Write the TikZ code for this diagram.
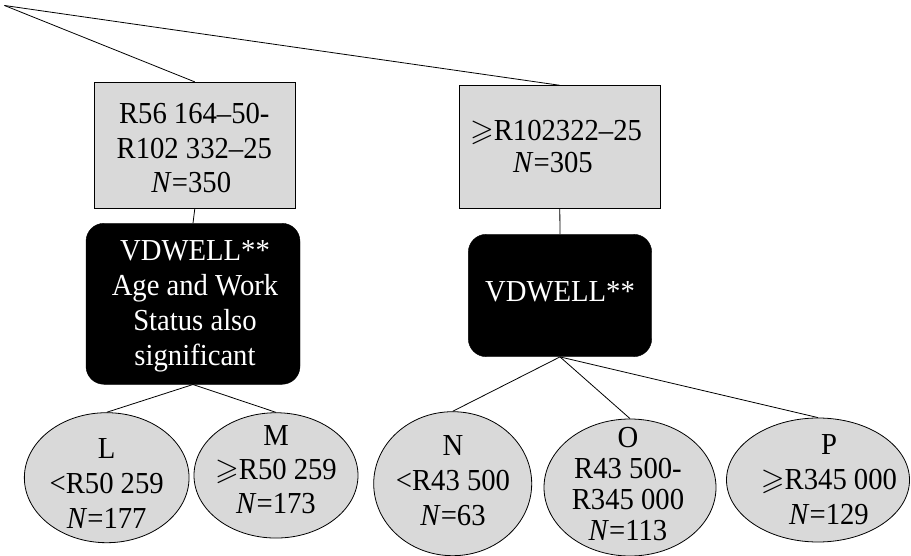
\documentclass[tikz,border=0pt]{standalone}
\usepackage{amssymb}
\usepackage{fontspec}
\setmainfont[FakeStretch=0.94]{Liberation Serif}
\usetikzlibrary{shapes.geometric}
\definecolor{boxgray}{HTML}{D9D9D9}
\begin{document}
\begin{tikzpicture}[x=1pt,y=-1pt,
  link/.style={draw=black,line width=0.8pt},
  gbox/.style={rectangle,draw=black,fill=boxgray,line width=0.8pt,inner sep=0pt},
  bbox/.style={rectangle,draw=black,fill=black,rounded corners=18pt,inner sep=0pt},
  leaf/.style={ellipse,draw=black,fill=boxgray,line width=0.8pt,inner sep=0pt},
  txt/.style={align=center,inner sep=0pt,text depth=0pt,font=\fontsize{30.5}{35}\selectfont},
  wtxt/.style={txt,text=white}]
\useasboundingbox (0,0) rectangle (911,556);
\coordinate (root) at (4.5,5.5);
% grey boxes
\node[gbox,minimum width=201.7pt,minimum height=126pt] (b1) at (194.8,145.3) {};
\node[gbox,minimum width=201.7pt,minimum height=122.6pt] (b2) at (559.8,147) {};
% black boxes
\node[bbox,minimum width=214pt,minimum height=161pt] (k1) at (193,303.8) {};
\node[bbox,minimum width=183.4pt,minimum height=122.4pt] (k2) at (560,295.5) {};
% leaves
\node[leaf,minimum width=164.7pt,minimum height=130pt] (L) at (106.7,477.7) {};
\node[leaf,minimum width=164pt,minimum height=125.3pt] (M) at (276,475.4) {};
\node[leaf,minimum width=158pt,minimum height=144pt] (N) at (452.7,483.7) {};
\node[leaf,minimum width=172pt,minimum height=137pt] (O) at (630,487.5) {};
\node[leaf,minimum width=183pt,minimum height=124pt] (P) at (818,480) {};
% connectors
\draw[link] (root) -- (b1.north);
\draw[link] (root) -- (b2.north);
\draw[link] (b1.south) -- (k1.north);
\draw[link] (b2.south) -- (k2.north);
\draw[link] (k1.south) -- (L.north);
\draw[link] (k1.south) -- (M.north);
\draw[link] (k2.south) -- (N.north);
\draw[link] (k2.south) -- (O.north);
\draw[link] (k2.south) -- (P.north);
% texts
\node[txt,font=\fontsize{30.5}{34.2}\selectfont] (t1) at (194.3,148) {R56 164–50-\\R102 332–25\\\textit{N}=350\hspace*{6pt}};
\node[txt,font=\fontsize{30.5}{31.7}\selectfont] (t2) at (556,146.3) {$\geqslant$R102322–25\\\textit{N}=305\hspace*{6pt}};
\node[wtxt] (tk1) at (195,303.5) {VDWELL**\\Age and Work\\Status also\\significant};
\node[wtxt] (tk2) at (560,291.7) {VDWELL**};
\node[txt] (tL) at (106.7,483.5) {L\\<R50 259\\\textit{N}=177};
\node[txt,font=\fontsize{30.5}{34.2}\selectfont] (tM) at (276,469.7) {M\\$\geqslant$R50 259\\\textit{N}=173};
\node[txt] (tN) at (453,480.5) {N\\<R43 500\\\textit{N}=63};
\node[txt,font=\fontsize{30.5}{31.1}\selectfont] (tO) at (628,483.8) {O\\R43 500-\\R345 000\\\textit{N}=113};
\node[txt] (tP) at (829,479.5) {P\\$\geqslant$R345 000\\\textit{N}=129};
\end{tikzpicture}
\end{document}
